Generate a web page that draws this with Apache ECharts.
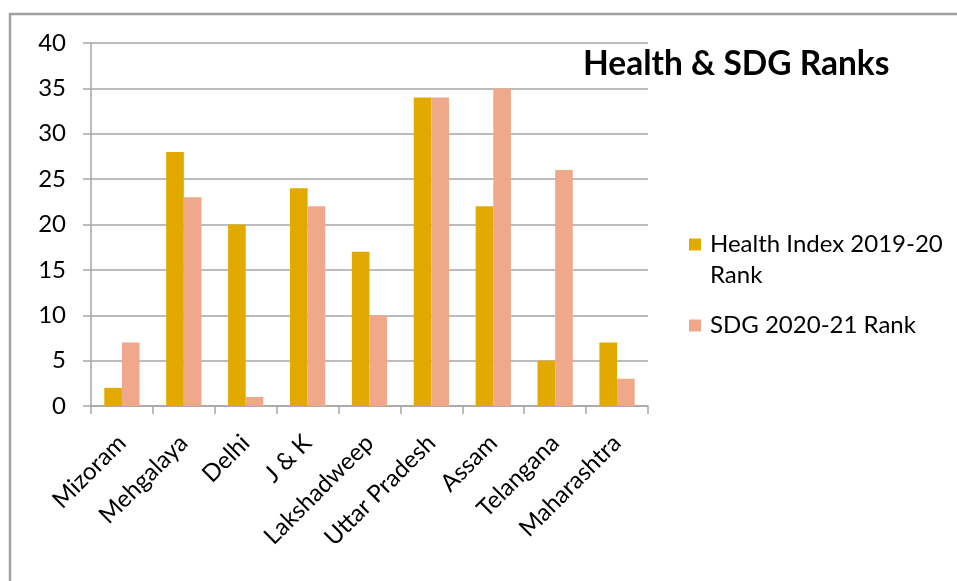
<!DOCTYPE html>
<html>
<head>
<meta charset="utf-8">
<script src="https://cdn.jsdelivr.net/npm/echarts@6/dist/echarts.min.js"></script>
<style>
  html, body { margin: 0; padding: 0; background: #fff; }
  #chart { width: 957px; height: 581px; }
</style>
</head>
<body>
<div id="chart"></div>
<script>
const states = ['Mizoram', 'Mehgalaya', 'Delhi', 'J & K', 'Lakshadweep', 'Uttar Pradesh', 'Assam', 'Telangana', 'Maharashtra']
const healthRank = [2, 28, 20, 24, 17, 34, 22, 5, 7]
const sdgRank = [7, 23, 1, 22, 10, 34, 35, 26, 3]
const seriesNames = ['Health Index 2019-20 Rank', 'SDG 2020-21 Rank']

const font = 'Lato, "Open Sans", sans-serif'
const gridColor = '#a6a6a6'

const chart = echarts.init(document.getElementById('chart'))

// legend text as rich text so it can sit a few px right of the square
const legendText = { fontFamily: font, fontSize: 24, color: '#000', lineHeight: 31, padding: [0, 0, 0, 4] }
const legendBase = {
  orient: 'vertical',
  left: 689,
  padding: 0,
  itemWidth: 12,
  itemHeight: 12,
  icon: 'rect',
  textStyle: { fontFamily: font, fontSize: 24, color: '#000', lineHeight: 31, rich: { t: legendText } }
}

chart.setOption({
  animation: false,
  title: {
    text: 'Health & SDG Ranks',
    left: 583,
    top: 47,
    padding: 0,
    textStyle: { fontFamily: font, fontSize: 33.5, fontWeight: 'bold', color: '#000' }
  },
  legend: [
    {
      // empty first line keeps "Health Index 2019-20" level with the square
      ...legendBase,
      data: [seriesNames[0]],
      top: 198,
      formatter: () => '{t| }\n{t|Health Index 2019-20}\n{t|Rank}'
    },
    {
      ...legendBase,
      data: [seriesNames[1]],
      top: 310,
      formatter: name => '{t|' + name + '}'
    }
  ],
  grid: { left: 91, right: 309, top: 43, bottom: 175, containLabel: false },
  xAxis: {
    type: 'category',
    data: states,
    axisLine: { lineStyle: { color: gridColor, width: 1.5 } },
    axisTick: { show: true, length: 8, lineStyle: { color: gridColor, width: 1.5 } },
    axisLabel: { rotate: 45, margin: 33, fontFamily: font, fontSize: 24, color: '#000', interval: 0 }
  },
  yAxis: {
    type: 'value',
    min: 0,
    max: 40,
    interval: 5,
    axisLine: { show: true, lineStyle: { color: gridColor, width: 1.5 } },
    axisTick: { show: true, length: 8, lineStyle: { color: gridColor, width: 1.5 } },
    splitLine: { lineStyle: { color: gridColor, width: 1.5 } },
    axisLabel: { margin: 25, fontFamily: font, fontSize: 24, color: '#000' }
  },
  series: [
    {
      name: seriesNames[0],
      type: 'bar',
      data: healthRank,
      barGap: '0%',
      barCategoryGap: '43%',
      itemStyle: { color: '#e2aa00' }
    },
    {
      name: seriesNames[1],
      type: 'bar',
      data: sdgRank,
      itemStyle: { color: '#f0a88b' }
    }
  ],
  graphic: [
    {
      type: 'rect',
      silent: true,
      shape: { x: 10, y: 14, width: 1000, height: 700 },
      style: { fill: 'none', stroke: '#a0a0a0', lineWidth: 2.5 }
    }
  ]
})
</script>
</body>
</html>
